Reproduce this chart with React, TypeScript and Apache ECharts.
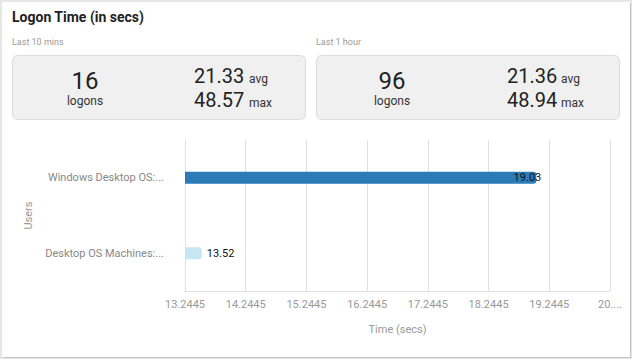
import React, { useEffect, useRef } from "react";
import * as echarts from "echarts";

const categories = ["Windows Desktop OS:...", "Desktop OS Machines:..."];
const logonTimes = [19.03, 13.52];
const barColors = ["#2b7bb9", "#c6e6f2"];
const xTickValues = [13.2445, 14.2445, 15.2445, 16.2445, 17.2445, 18.2445, 19.2445, 20.2445];
const xTickLabels = ["13.2445", "14.2445", "15.2445", "16.2445", "17.2445", "18.2445", "19.2445", "20...."];

const periods = ["Last 10 mins", "Last 1 hour"];
const logons = ["16", "96"];
const avgs = ["21.33", "21.36"];
const maxs = ["48.57", "48.94"];

const FONT = "Roboto, 'Noto Sans', sans-serif";

export default function App() {
  const ref = useRef<HTMLDivElement>(null);
  useEffect(() => {
    document.body.style.margin = "0";
    const chart = echarts.init(ref.current!, null, { renderer: "svg" });

    const cards = [
      { x: 12.5, w: 293, cx: 85, numX: 194, unitX: 249 },
      { x: 316.5, w: 303, cx: 392, numX: 507, unitX: 561 },
    ];
    const graphics: any[] = [
      { type: "rect", silent: true, shape: { x: 3, y: 3, width: 628, height: 355 }, style: { fill: "#c4c4c4" }, z: -10 },
      { type: "rect", silent: true, shape: { x: 2, y: 2, width: 628, height: 355 }, style: { fill: "#ffffff" }, z: -9 },
      {
        type: "text", x: 12, y: 17.2,
        style: { text: "Logon Time (in secs)", fill: "#222", font: `bold 14px ${FONT}`, verticalAlign: "middle", align: "left" },
      },
    ];
    cards.forEach((c, i) => {
      graphics.push(
        { type: "text", x: c.x - 0.5, y: 42, style: { text: periods[i], fill: "#999", font: `9px ${FONT}`, verticalAlign: "middle", align: "left" } },
        { type: "rect", shape: { x: c.x, y: 55.5, width: c.w, height: 64, r: 5 }, style: { fill: "#f0f0f0", stroke: "#dcdcdc", lineWidth: 1 } },
        { type: "text", x: c.cx, y: 80.8, style: { text: logons[i], fill: "#222", font: `24px ${FONT}`, verticalAlign: "middle", align: "center" } },
        { type: "text", x: c.cx, y: 100.5, style: { text: "logons", fill: "#333", font: `12px ${FONT}`, verticalAlign: "middle", align: "center" } },
        { type: "text", x: c.numX, y: 76.2, style: { text: avgs[i], fill: "#222", font: `20px ${FONT}`, verticalAlign: "middle", align: "left" } },
        { type: "text", x: c.unitX, y: 78.9, style: { text: "avg", fill: "#333", font: `12px ${FONT}`, verticalAlign: "middle", align: "left" } },
        { type: "text", x: c.numX, y: 100.2, style: { text: maxs[i], fill: "#222", font: `20px ${FONT}`, verticalAlign: "middle", align: "left" } },
        { type: "text", x: c.unitX, y: 102.9, style: { text: "max", fill: "#333", font: `12px ${FONT}`, verticalAlign: "middle", align: "left" } }
      );
    });

    chart.setOption({
      animation: false,
      backgroundColor: "#e6e6e6",
      textStyle: { fontFamily: FONT },
      graphic: { elements: graphics },
      grid: { left: 185, right: 22, top: 140, bottom: 68, containLabel: false, outerBoundsMode: "none" },
      xAxis: {
        type: "value",
        min: xTickValues[0],
        max: xTickValues[xTickValues.length - 1],
        name: "Time (secs)",
        nameLocation: "middle",
        nameGap: 33,
        nameTextStyle: { color: "#999", fontSize: 11, fontFamily: FONT },
        axisLine: { show: true, lineStyle: { color: "#e0e0e0" } },
        axisTick: { show: false, customValues: xTickValues },
        splitLine: { show: true, lineStyle: { color: "#e0e0e0", width: 1 } },
        axisLabel: {
          customValues: xTickValues,
          color: "#999",
          fontSize: 11,
          fontFamily: FONT,
          margin: 8,
          formatter: (v: number) => {
            const idx = xTickValues.findIndex((t) => Math.abs(t - v) < 1e-6);
            return idx >= 0 ? xTickLabels[idx] : "";
          },
        },
      },
      yAxis: {
        type: "category",
        inverse: true,
        data: categories,
        name: "Users",
        nameLocation: "middle",
        nameGap: 147,
        nameTextStyle: { color: "#999", fontSize: 11, fontFamily: FONT },
        axisLine: { show: true, lineStyle: { color: "#e0e0e0" } },
        axisTick: { show: false },
        splitLine: { show: false },
        axisLabel: { color: "#888", fontSize: 11, fontFamily: FONT, margin: 21 },
      },
      series: [
        {
          type: "bar",
          barWidth: 12,
          data: logonTimes.map((v, i) => ({
            value: v,
            itemStyle: { color: barColors[i], borderRadius: [0, 3, 3, 0] },
            label:
              i === 0
                ? { show: true, position: "insideRight", offset: [10, 0] }
                : { show: true, position: "right", distance: 5 },
          })),
          label: { show: true, color: "#111", fontSize: 11, fontFamily: FONT, formatter: (p: any) => p.value.toFixed(2) },
        },
      ],
    });
    return () => chart.dispose();
  }, []);
  return <div ref={ref} style={{ position: "fixed", left: 0, top: 0, width: 632, height: 359 }} />;
}
